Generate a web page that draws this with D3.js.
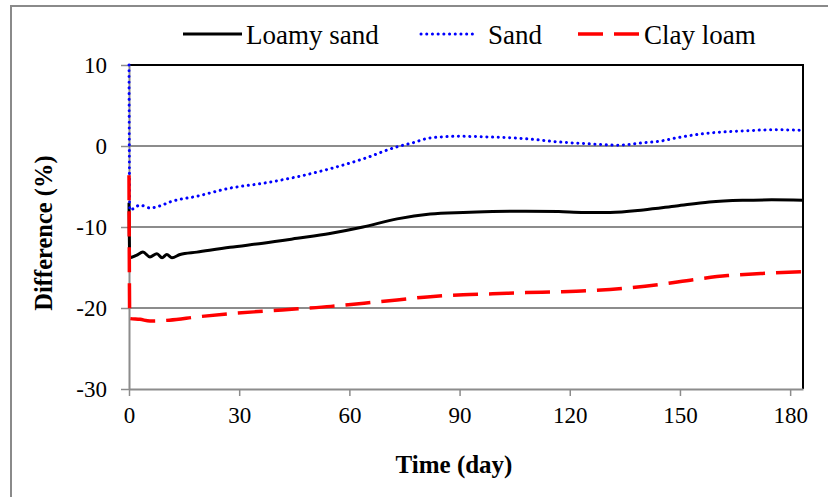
<!DOCTYPE html>
<html>
<head>
<meta charset="utf-8">
<script src="https://cdn.jsdelivr.net/npm/d3@7"></script>
<style>
  html, body { margin: 0; padding: 0; background: #fff; }
  svg { display: block; }
  text { font-family: "Liberation Serif", "Times New Roman", serif; fill: #000; }
</style>
</head>
<body>
<svg id="chart" width="828" height="497"></svg>
<script>
// Difference (%) over time (day) for three soil textures
const loamySandDays = [0, 0.2, 2, 3.8, 5.7, 7.6, 9, 10.3, 11.7, 13.9, 18.5, 27.5, 36.5, 45.8, 54.7, 63.7, 73, 82, 91, 99, 108, 117, 124, 131, 140, 149, 158, 167, 175, 183.5];
const loamySandValues = [-7, -13.8, -13.5, -13.1, -13.7, -13.3, -13.8, -13.4, -13.8, -13.4, -13.1, -12.5, -12.0, -11.4, -10.8, -10.0, -9.0, -8.4, -8.2, -8.1, -8.05, -8.1, -8.2, -8.2, -7.9, -7.4, -6.9, -6.7, -6.65, -6.7];

const sandDays = [0, 0.2, 3, 5.7, 8.4, 11.2, 18.5, 27.5, 36.5, 45.8, 54.8, 63.7, 73, 77.3, 82, 90, 99, 108, 117, 126, 133, 140, 144.6, 149, 153.6, 158, 167, 175, 183.5];
const sandValues = [10, -7.9, -7.3, -7.65, -7.4, -6.9, -6.2, -5.2, -4.6, -3.8, -2.8, -1.6, -0.1, 0.4, 1.0, 1.2, 1.1, 0.9, 0.5, 0.25, 0.1, 0.4, 0.6, 1.0, 1.35, 1.6, 1.85, 2.0, 1.95];

const clayLoamDays = [0, 0.2, 3, 5.7, 11, 18.5, 27.5, 36.5, 46, 55, 64, 73, 82, 91, 99, 108, 117, 126, 135.6, 144.6, 153.6, 163, 172, 183.5];
const clayLoamValues = [-3.6, -21.3, -21.4, -21.6, -21.5, -21.1, -20.7, -20.4, -20.1, -19.8, -19.4, -19.0, -18.6, -18.35, -18.25, -18.1, -18.0, -17.85, -17.55, -17.1, -16.5, -16.0, -15.75, -15.5];

const xTicks = [0, 30, 60, 90, 120, 150, 180];
const yTicks = [10, 0, -10, -20, -30];
const seriesNames = ["Loamy sand", "Sand", "Clay loam"];

const svg = d3.select("#chart");

// outer frame
svg.append("rect")
  .attr("x", 11).attr("y", 6).attr("width", 830).attr("height", 500)
  .attr("fill", "none").attr("stroke", "#8a8a8a").attr("stroke-width", 2);

const plotLeft = 129, plotRight = 803, plotTop = 65, plotBottom = 389;
const x = d3.scaleLinear().domain([0, 183.5]).range([plotLeft, plotRight]);
const y = d3.scaleLinear().domain([-30, 10]).range([plotBottom, plotTop]);

// horizontal gridlines
svg.append("g").selectAll("line")
  .data(yTicks.filter(v => v !== 10 && v !== -30))
  .join("line")
  .attr("x1", plotLeft).attr("x2", plotRight)
  .attr("y1", d => y(d)).attr("y2", d => y(d))
  .attr("stroke", "#8c8c8c").attr("stroke-width", 2);

// plot border (top and right)
svg.append("path")
  .attr("d", `M${plotLeft},${y(10)}H${plotRight}V${plotBottom}`)
  .attr("fill", "none").attr("stroke", "#000").attr("stroke-width", 2);

// axes (plain hyphen for negatives)
const fmt = d => String(d);
const xAxis = d3.axisBottom(x).tickValues(xTicks).tickFormat(fmt).tickSize(7).tickSizeOuter(0).tickPadding(10);
const yAxis = d3.axisLeft(y).tickValues(yTicks).tickFormat(fmt).tickSize(8).tickSizeOuter(0).tickPadding(14);

const gx = svg.append("g").attr("transform", `translate(0,${plotBottom})`).call(xAxis);
const gy = svg.append("g").attr("transform", `translate(${plotLeft},0)`).call(yAxis);
[gx, gy].forEach(g => {
  g.attr("font-family", null).attr("font-size", null);
  g.select(".domain").attr("stroke", "#8c8c8c").attr("stroke-width", 2);
  g.selectAll(".tick line").attr("stroke", "#8c8c8c").attr("stroke-width", 1.5);
  g.selectAll(".tick text").style("font-size", "23px").attr("fill", "#000");
});
gy.selectAll(".tick text").attr("dy", "0.34em");
gx.selectAll(".tick text").attr("dy", "0.72em");

// axis titles
svg.append("text")
  .attr("x", 454).attr("y", 473)
  .attr("text-anchor", "middle")
  .style("font-size", "25px").attr("font-weight", "bold")
  .text("Time (day)");

svg.append("text")
  .attr("transform", "translate(52,233) rotate(-90)")
  .attr("text-anchor", "middle")
  .style("font-size", "24.5px").attr("font-weight", "bold")
  .text("Difference (%)");

// series
const line = d3.line().x(d => x(d[0])).y(d => y(d[1])).curve(d3.curveMonotoneX);
const series = [
  { name: seriesNames[0], pts: d3.zip(loamySandDays, loamySandValues), color: "#000000", width: 3, dash: null, cap: "butt" },
  { name: seriesNames[1], pts: d3.zip(sandDays, sandValues), color: "#0000ff", width: 3, dash: "0.1 5.6", cap: "round" },
  { name: seriesNames[2], pts: d3.zip(clayLoamDays, clayLoamValues), color: "#ff0000", width: 3.5, dash: "25 11", cap: "butt" }
];

const plot = svg.append("g");
series.forEach(s => {
  plot.append("path")
    .attr("d", line(s.pts))
    .attr("fill", "none")
    .attr("stroke", s.color)
    .attr("stroke-width", s.width)
    .attr("stroke-linecap", s.cap)
    .attr("stroke-dasharray", s.dash);
});

// legend
const legendItems = [
  { x1: 183, x2: 242, tx: 246 },
  { x1: 421, x2: 477, tx: 488 },
  { x1: 578, x2: 639, tx: 644 }
];
const lg = svg.append("g");
series.forEach((s, i) => {
  const it = legendItems[i];
  lg.append("line")
    .attr("x1", it.x1).attr("x2", it.x2)
    .attr("y1", 34).attr("y2", 34)
    .attr("stroke", s.color)
    .attr("stroke-width", s.width)
    .attr("stroke-linecap", s.cap)
    .attr("stroke-dasharray", s.dash);
  lg.append("text")
    .attr("x", it.tx).attr("y", 44)
    .style("font-size", "27px")
    .text(s.name);
});
</script>
</body>
</html>
